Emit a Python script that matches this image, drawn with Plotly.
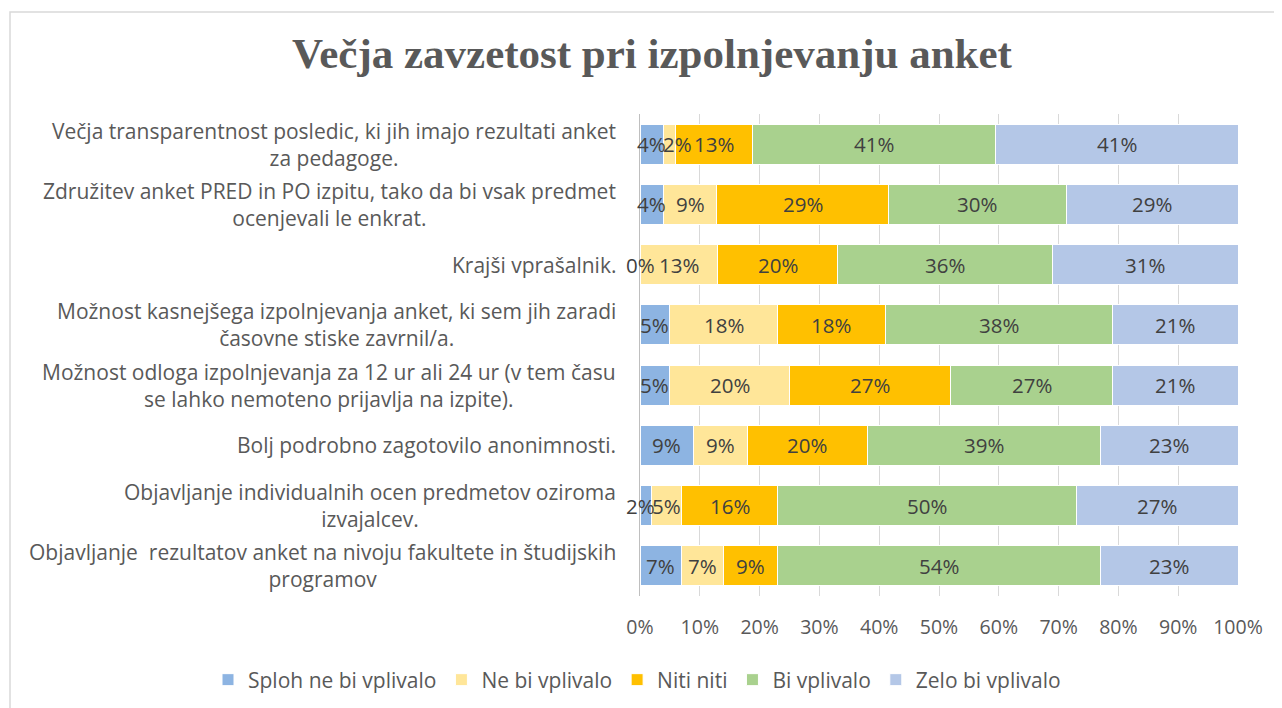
import plotly.graph_objects as go

categories = [
    "Večja transparentnost posledic, ki jih imajo rezultati anket<br>za pedagoge.",
    "Združitev anket PRED in PO izpitu, tako da bi vsak predmet<br>ocenjevali le enkrat.",
    "Krajši vprašalnik.",
    "Možnost kasnejšega izpolnjevanja anket, ki sem jih zaradi<br>časovne stiske zavrnil/a.",
    "Možnost odloga izpolnjevanja za 12 ur ali 24 ur (v tem času<br>se lahko nemoteno prijavlja na izpite).",
    "Bolj podrobno zagotovilo anonimnosti.",
    "Objavljanje individualnih ocen predmetov oziroma<br>izvajalcev.",
    "Objavljanje  rezultatov anket na nivoju fakultete in študijskih<br>programov",
]
series_names = ["Sploh ne bi vplivalo", "Ne bi vplivalo", "Niti niti", "Bi vplivalo", "Zelo bi vplivalo"]
sploh_ne = [4, 4, 0, 5, 5, 9, 2, 7]
ne_bi = [2, 9, 13, 18, 20, 9, 5, 7]
niti_niti = [13, 29, 20, 18, 27, 20, 16, 9]
bi = [41, 30, 36, 38, 27, 39, 50, 54]
zelo_bi = [41, 29, 31, 21, 21, 23, 27, 23]
tick_vals = [0, 10, 20, 30, 40, 50, 60, 70, 80, 90, 100]
tick_text = ["0%", "10%", "20%", "30%", "40%", "50%", "60%", "70%", "80%", "90%", "100%"]

colors = ["#8DB4E2", "#FFE699", "#FFC000", "#A9D18E", "#B4C7E7"]
series = [sploh_ne, ne_bi, niti_niti, bi, zelo_bi]

# page has an 8px body margin; lay out in figure coordinates
OFF = 8
W, H = 1282 - OFF, 708 - OFF
L, T = 640 - OFF, 114 - OFF
R = W - (1238 - OFF)
B = H - (596 - OFF)
pw, ph = W - L - R, H - T - B
FONT = "Open Sans"

fig = go.Figure()
for name, vals, col in zip(series_names, series, colors):
    fig.add_trace(go.Bar(
        y=categories, x=vals, name=name, orientation="h",
        marker=dict(color=col, line=dict(color="white", width=1)),
        textposition="none", width=0.66,
    ))

annotations = []
for c in categories:
    annotations.append(dict(
        x=0, xref="paper", y=c, yref="y", text=c, showarrow=False,
        xanchor="right", align="center", xshift=-22,
        font=dict(family=FONT, size=21, color="#595959"),
    ))

# data labels at segment centres (normalised to 100%)
totals = [sum(s[i] for s in series) for i in range(len(categories))]
for i, c in enumerate(categories):
    cum = 0.0
    for k, s in enumerate(series):
        v = s[i]
        mid = (cum + v / 2) / totals[i] * 100
        shift = 0
        if 0 < v <= 2:
            shift = -5 if k == 0 else 8
        annotations.append(dict(
            x=mid, xref="x", y=c, yref="y", text=f"{v}%", showarrow=False,
            xanchor="center", yanchor="middle", xshift=shift,
            font=dict(family=FONT, size=20.5, color="#404040"),
        ))
        cum += v

fig.update_layout(
    width=W, height=H,
    barmode="stack", barnorm="percent",
    margin=dict(l=L, r=R, t=T, b=B, autoexpand=False),
    paper_bgcolor="white", plot_bgcolor="white",
    title=dict(text="<b>Večja zavzetost pri izpolnjevanju anket</b>",
               x=(652 - OFF) / W, xanchor="center", y=1 - 45 / H, yanchor="middle",
               xref="container", yref="container",
               font=dict(family="Liberation Serif", size=43, color="#595959")),
    xaxis=dict(range=[0, 100], tickvals=tick_vals, ticktext=tick_text,
               showgrid=True, gridcolor="#D9D9D9", gridwidth=1, zeroline=False,
               tickfont=dict(family=FONT, size=19.5, color="#595959"),
               ticks="outside", ticklen=14, tickcolor="rgba(0,0,0,0)", fixedrange=True),
    yaxis=dict(categoryorder="array", categoryarray=categories, autorange="reversed",
               showticklabels=False, showline=True, linecolor="#BFBFBF", linewidth=1,
               ticks=""),
    legend=dict(orientation="h", xref="paper", yref="paper",
                x=(200 - L) / pw, xanchor="left",
                y=-((680 - OFF) - (T + ph)) / ph, yanchor="middle",
                font=dict(family=FONT, size=21, color="#595959"),
                traceorder="normal", itemwidth=30),
    annotations=annotations,
    showlegend=True,
    shapes=[dict(type="rect", xref="paper", yref="paper",
                 x0=(2 - L) / pw, x1=(1300 - L) / pw,
                 y0=-(730 - (T + ph)) / ph, y1=((T + ph) - 4) / ph,
                 line=dict(color="#D9D9D9", width=1.5), layer="below")],
)

fig.write_html("out.html")
